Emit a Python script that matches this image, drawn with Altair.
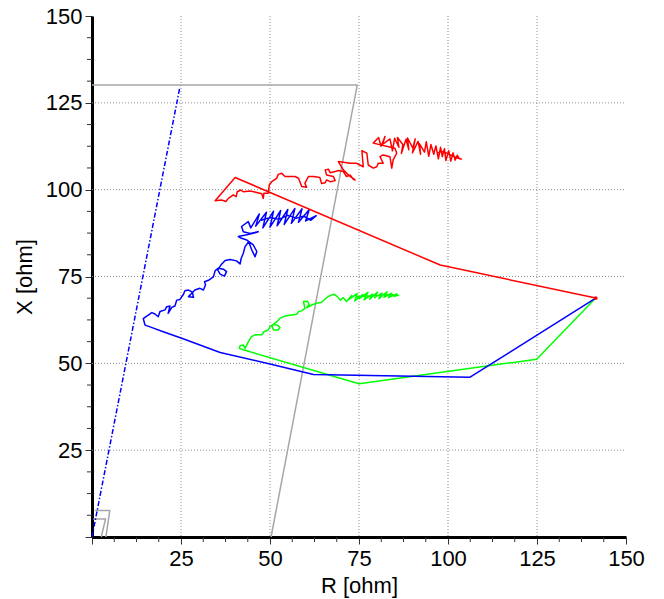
import altair as alt
import pandas as pd

# ---- data (R [ohm], X [ohm]) ----
red_path = [
    (141.5, 68.8), (97.8, 78.3), (40.2, 103.5), (34.6, 96.8), (36.4, 97.0), (37.6, 96.6),
    (38.3, 97.5), (39.0, 98.0), (39.7, 98.5), (40.5, 98.0), (40.8, 99.4), (41.8, 99.9),
    (42.5, 99.4), (44.4, 99.6), (46.3, 99.2), (47.7, 98.8), (48.1, 97.5), (48.3, 99.0),
    (49.5, 99.0), (49.8, 101.4), (50.5, 102.3), (51.9, 103.3), (52.3, 104.4), (53.3, 104.7),
    (54.2, 103.8), (55.2, 103.8), (57.0, 103.8), (58.0, 103.3), (58.4, 102.3), (58.9, 100.9),
    (60.3, 100.7), (59.8, 101.8), (60.8, 103.8), (62.2, 103.8), (64.0, 103.5), (64.5, 101.8),
    (65.5, 102.0), (65.9, 102.8), (66.9, 102.3), (68.3, 102.6), (67.8, 103.8), (65.9, 104.2),
    (65.5, 105.7), (66.4, 105.9), (66.9, 104.9), (68.3, 105.2), (69.2, 105.5), (70.6, 105.2),
    (71.5, 103.8), (72.5, 104.2), (73.4, 103.0), (73.9, 102.8), (72.5, 103.8), (70.6, 105.7),
    (69.2, 108.1), (70.6, 107.9), (72.5, 107.6), (74.3, 107.6), (76.2, 106.6), (75.8, 111.2),
    (77.2, 110.5), (77.6, 107.1), (79.0, 106.2), (80.0, 106.6), (80.4, 107.6), (81.8, 107.6),
    (80.9, 109.5), (81.8, 110.0), (83.7, 109.5), (84.2, 106.2), (84.6, 108.6), (85.6, 110.5),
    (85.1, 111.9), (79.0, 113.4), (80.5, 115.0), (81.2, 112.5), (82.3, 115.3), (81.6, 113.0),
    (83.7, 114.6), (84.4, 111.2), (85.0, 114.8), (86.2, 112.2), (85.8, 115.0), (87.3, 113.0),
    (86.9, 110.4), (88.2, 114.5), (89.0, 111.5), (88.6, 114.9), (90.1, 112.0), (90.8, 114.6),
    (90.0, 110.6), (91.6, 113.9), (92.3, 110.2), (92.0, 113.2), (93.4, 110.8), (93.9, 113.8),
    (94.6, 109.6), (95.2, 113.0), (96.0, 110.2), (96.6, 112.6), (97.3, 108.9), (97.9, 112.2),
    (98.4, 109.5), (99.0, 111.8), (99.4, 108.4), (100.2, 111.2), (100.8, 108.2), (101.4, 110.6),
    (102.0, 108.5), (102.6, 109.9), (103.2, 108.9), (103.8, 108.8), (102.4, 109.2), (101.1, 109.8),
    (99.8, 110.5), (98.3, 111.0), (97.0, 110.6),
]

blue_path = [
    (141.5, 68.8), (106.2, 46.0), (62.2, 46.8), (50.0, 49.8), (36.0, 53.1), (25.2, 57.2),
    (20.0, 59.1), (16.3, 60.5), (14.9, 61.0), (14.4, 62.9), (15.8, 63.9), (16.8, 64.6),
    (17.7, 64.2), (18.6, 63.4), (19.1, 64.9), (20.5, 65.4), (21.0, 66.3), (21.9, 66.5),
    (21.4, 64.4), (22.4, 66.1), (23.3, 66.5), (23.8, 68.2), (24.7, 68.4), (25.7, 69.9),
    (26.1, 70.9), (27.1, 71.1), (28.2, 70.5), (28.5, 69.0), (27.1, 69.2), (28.9, 71.1),
    (30.3, 71.6), (31.3, 71.1), (31.9, 72.6), (31.6, 73.5), (32.9, 74.0), (34.1, 74.9),
    (34.6, 76.7), (35.5, 77.4), (36.9, 77.1), (37.8, 76.4), (37.2, 75.1), (36.0, 75.7),
    (35.3, 76.9), (36.2, 78.3), (37.4, 79.6), (38.8, 79.9), (40.6, 79.5), (41.6, 78.6),
    (41.9, 80.2), (42.5, 81.7), (43.0, 83.6), (44.0, 85.0), (44.9, 82.6), (45.8, 80.7),
    (46.3, 82.2), (45.3, 84.1), (43.5, 85.5), (42.0, 86.0), (41.1, 86.5), (43.5, 87.0),
    (45.8, 87.6), (46.7, 87.9), (44.4, 87.4), (42.5, 87.9), (42.0, 89.4), (43.9, 90.8),
    (44.6, 89.0), (47.0, 93.0), (46.0, 89.5), (49.0, 93.5), (48.0, 89.0), (51.0, 93.8),
    (50.0, 89.2), (53.0, 94.0), (52.0, 89.6), (55.0, 94.3), (54.0, 90.0), (57.0, 94.6),
    (56.0, 90.3), (59.0, 94.5), (58.0, 90.6), (61.0, 94.2), (60.0, 91.0), (63.0, 92.5),
    (61.5, 91.2), (59.5, 92.4), (57.5, 91.8), (55.0, 92.6), (52.5, 91.5), (50.0, 92.0),
    (47.5, 91.2),
]

green_path = [
    (141.5, 68.8), (124.9, 51.2), (75.0, 44.1), (42.5, 53.9), (41.4, 54.3), (41.6, 55.1),
    (42.5, 55.3), (43.0, 54.3), (43.9, 56.2), (44.8, 57.7), (45.8, 58.2), (47.7, 58.2),
    (48.3, 59.1), (49.5, 59.6), (50.0, 60.6), (51.1, 61.2), (52.1, 61.0), (52.8, 60.3),
    (52.3, 59.6), (51.0, 59.6), (50.5, 60.9), (51.9, 62.0), (52.8, 63.0), (54.2, 63.6),
    (56.1, 63.9), (57.5, 64.1), (58.0, 64.9), (58.9, 65.1), (59.8, 65.8), (59.4, 67.8),
    (60.5, 67.9), (61.0, 67.0), (60.3, 66.0), (61.7, 66.8), (63.1, 67.3), (64.5, 67.6),
    (65.9, 68.9), (66.8, 69.5), (68.0, 69.9), (68.9, 69.2), (69.7, 68.2), (70.6, 68.9),
    (71.5, 67.8), (73.0, 69.6), (72.2, 68.4), (74.5, 70.1), (73.8, 68.0), (76.0, 69.8),
    (75.1, 68.6), (77.5, 70.4), (76.4, 68.3), (78.8, 69.9), (78.0, 68.5), (80.2, 70.5),
    (79.4, 68.9), (81.5, 70.2), (80.6, 68.6), (82.9, 70.6), (82.0, 69.0), (84.2, 70.2),
    (83.3, 68.9), (85.6, 70.0), (84.8, 69.3), (86.1, 69.6), (83.5, 69.8), (80.5, 69.5),
    (77.0, 69.4), (74.0, 69.2),
]

zone_big = [(0.0, 130.1), (74.5, 130.1), (50.3, 0.0)]
zone_small1 = [(0.4, 5.2), (3.8, 5.2), (2.6, 0.0)]
zone_small2 = [(0.8, 7.6), (5.0, 7.6), (3.9, 0.0)]
blue_dashdot = [(0.0, 0.0), (24.7, 129.6)]
start_point = [(141.5, 68.8)]

major_ticks = [0, 25, 50, 75, 100, 125, 150]
grid_values = [25, 50, 75, 100, 125]
minor_ticks = [6.25, 12.5, 18.75, 31.25, 37.5, 43.75, 56.25, 62.5, 68.75,
               81.25, 87.5, 93.75, 106.25, 112.5, 118.75, 131.25, 137.5, 143.75]

W, H = 534, 521
FONT = "Liberation Sans"


def frame(groups):
    rows = []
    for name, pts in groups.items():
        for i, (r, x) in enumerate(pts):
            rows.append({"s": name, "i": i, "R": r, "X": x})
    return pd.DataFrame(rows)


xs = alt.Scale(domain=[0, 150], nice=False, zero=False)
ys = alt.Scale(domain=[0, 150], nice=False, zero=False)

common_axis = dict(
    values=major_ticks, grid=False, labelFont=FONT, labelFontSize=22, labelColor="black",
    titleFont=FONT, titleFontSize=22, titleFontWeight="normal", titleColor="black",
    domainColor="black", domainWidth=3, tickColor="#333333", tickWidth=1, tickSize=7,
    labelOverlap=False, labelFlush=False,
    labelExpr="datum.value == 0 ? '' : datum.label",
)
x_axis = alt.Axis(title="R [ohm]", labelPadding=4, titleX=W / 2, titleY=55,
                  titleBaseline="alphabetic", **common_axis)
y_axis = alt.Axis(title="X [ohm]", labelPadding=3, titleAngle=270, titleX=-61, titleY=H / 2,
                  titleAlign="center", titleBaseline="alphabetic", **common_axis)

X_ENC = alt.X("R:Q", scale=xs, axis=x_axis)
Y_ENC = alt.Y("X:Q", scale=ys, axis=y_axis)

grid_df_v = pd.DataFrame({"R": grid_values})
grid_df_h = pd.DataFrame({"X": grid_values})
minor_df_x = pd.DataFrame({"R": minor_ticks})
minor_df_y = pd.DataFrame({"X": minor_ticks})

grid_v = alt.Chart(grid_df_v).mark_rule(color="#8c8c8c", strokeDash=[1, 2], strokeWidth=1).encode(
    x=X_ENC, y=alt.value(0), y2=alt.value(H))
grid_h = alt.Chart(grid_df_h).mark_rule(color="#8c8c8c", strokeDash=[1, 2], strokeWidth=1).encode(
    y=Y_ENC, x=alt.value(0), x2=alt.value(W))
minor_x = alt.Chart(minor_df_x).mark_rule(color="#333333", strokeWidth=1).encode(
    x=X_ENC, y=alt.value(H), y2=alt.value(H + 5))
minor_y = alt.Chart(minor_df_y).mark_rule(color="#333333", strokeWidth=1).encode(
    y=Y_ENC, x=alt.value(-5), x2=alt.value(0))

gray_df = frame({"big": zone_big, "s1": zone_small1, "s2": zone_small2})
gray = alt.Chart(gray_df).mark_line(color="#a6a6a6", strokeWidth=1.5).encode(
    x=X_ENC, y=Y_ENC, order="i:Q", detail="s:N")

dash_df = frame({"dd": blue_dashdot})
dashdot = alt.Chart(dash_df).mark_line(color="#0000ff", strokeWidth=1.5, strokeDash=[5, 2, 1.5, 2]).encode(
    x=X_ENC, y=Y_ENC, order="i:Q")


def path_layer(pts, color, name):
    df = frame({name: pts})
    return alt.Chart(df).mark_line(color=color, strokeWidth=1.5, strokeJoin="round").encode(
        x=X_ENC, y=Y_ENC, order="i:Q")


green = path_layer(green_path, "#00ff00", "g")
blue = path_layer(blue_path, "#0000ff", "b")
red = path_layer(red_path, "#ff0000", "r")

pt_df = frame({"p": start_point})
pt = alt.Chart(pt_df).mark_point(color="#ff0000", filled=True, size=14, opacity=1).encode(x=X_ENC, y=Y_ENC)

chart = alt.layer(grid_v, grid_h, gray, dashdot, green, blue, red, pt, minor_x, minor_y).properties(
    width=W, height=H,
    padding={"left": 84, "top": 8, "right": 20, "bottom": 62},
    autosize=alt.AutoSizeParams(type="none"),
).configure_view(stroke="transparent")

chart.save("out.html", embed_options={"renderer": "svg", "actions": False})
